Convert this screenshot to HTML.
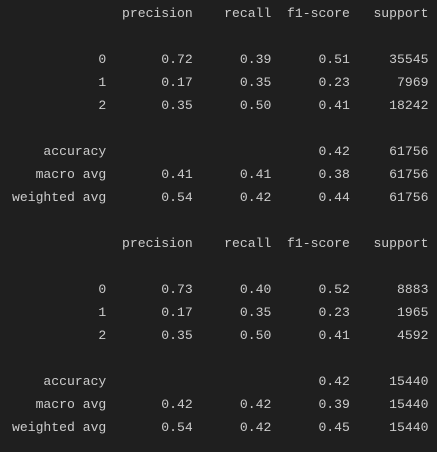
<!DOCTYPE html>
<html><head><meta charset="utf-8"><style>
html,body{margin:0;padding:0;background:#1f1f1f;width:437px;height:452px;overflow:hidden}
pre{margin:0;position:absolute;left:12px;top:2px;font-family:"Liberation Mono",monospace;font-size:13.1px;line-height:23px;color:#cccccc}
</style></head><body>
<pre>              precision    recall  f1-score   support

           0       0.72      0.39      0.51     35545
           1       0.17      0.35      0.23      7969
           2       0.35      0.50      0.41     18242

    accuracy                           0.42     61756
   macro avg       0.41      0.41      0.38     61756
weighted avg       0.54      0.42      0.44     61756

              precision    recall  f1-score   support

           0       0.73      0.40      0.52      8883
           1       0.17      0.35      0.23      1965
           2       0.35      0.50      0.41      4592

    accuracy                           0.42     15440
   macro avg       0.42      0.42      0.39     15440
weighted avg       0.54      0.42      0.45     15440</pre>
</body></html>
